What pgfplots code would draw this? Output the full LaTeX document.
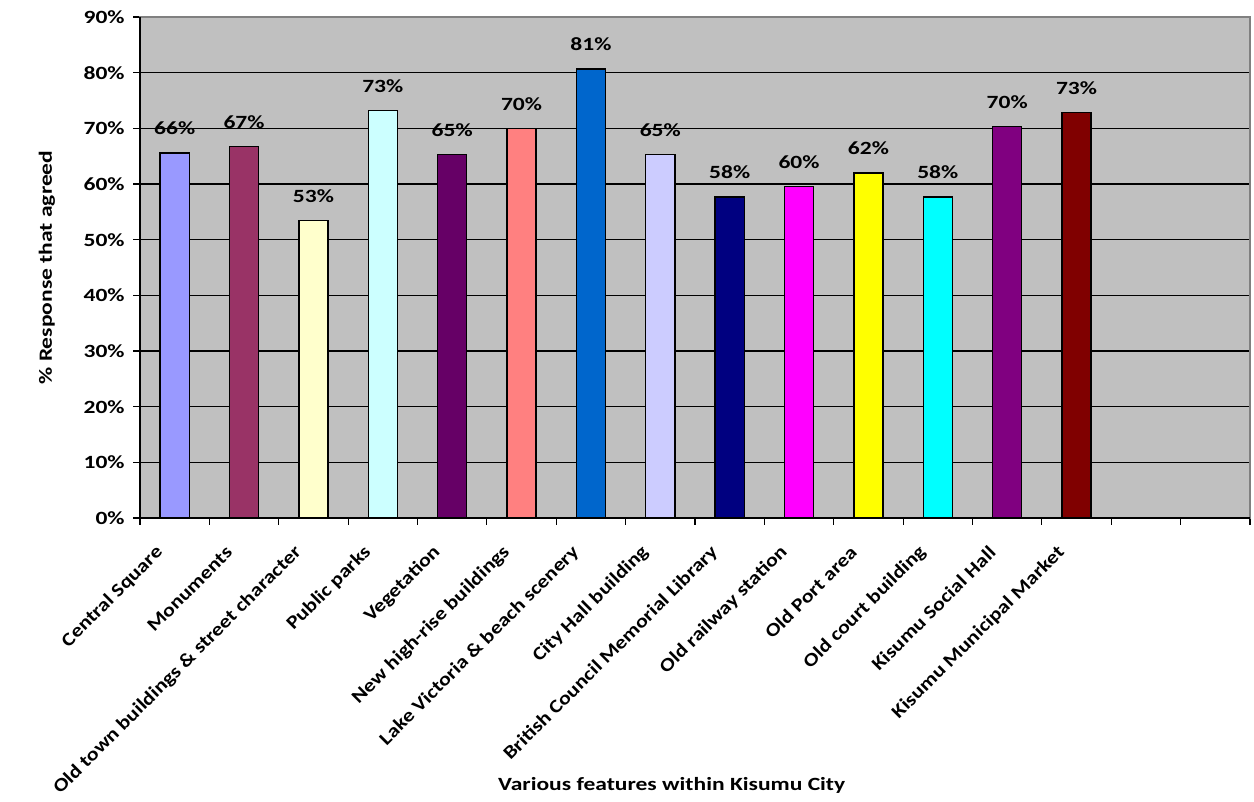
\documentclass[border=0pt]{standalone}
\usepackage{fontspec}
\setmainfont{Carlito}[FakeStretch=1.26]
\newfontfamily\labfont{Carlito}[FakeStretch=1.18]
\usepackage{pgfplots}
\pgfplotsset{compat=1.18}
\definecolor{bg}{RGB}{192,192,192}
\definecolor{c1}{RGB}{153,153,255}
\definecolor{c2}{RGB}{153,51,102}
\definecolor{c3}{RGB}{255,255,204}
\definecolor{c4}{RGB}{204,255,255}
\definecolor{c5}{RGB}{102,0,102}
\definecolor{c6}{RGB}{255,128,128}
\definecolor{c7}{RGB}{0,102,204}
\definecolor{c8}{RGB}{204,204,255}
\definecolor{c9}{RGB}{0,0,128}
\definecolor{c10}{RGB}{255,0,255}
\definecolor{c11}{RGB}{255,255,0}
\definecolor{c12}{RGB}{0,255,255}
\definecolor{c13}{RGB}{128,0,128}
\definecolor{c14}{RGB}{128,0,0}
\begin{document}
\begin{tikzpicture}[font=\bfseries\fontsize{14}{16.8}\selectfont]
\useasboundingbox (-105pt,-212.25pt) rectangle (835.5pt,388.5pt);
\begin{axis}[
  at={(0,0)}, anchor=south west,
  scale only axis, width=832.5pt, height=375.75pt,
  xmin=0, xmax=16, ymin=0, ymax=90,
  /pgf/number format/assume math mode=true,
  axis background/.style={fill=bg},
  axis line style={draw=gray, line width=0.8pt},
  xtick pos=lower, ytick pos=left,
  ytick={0,10,...,90},
  yticklabel={\pgfmathprintnumber{\tick}\%},
  yticklabel style={xshift=-3pt},
  ymajorgrids,
  grid style={black, line width=0.9pt},
  xtick={0,1,...,16}, xticklabels={},
  extra x ticks={0.5,1.5,...,13.5},
  extra x tick labels={Central Square, Monuments, Old town buildings \& street character, Public parks, Vegetation, New high-rise buildings, Lake Victoria \& beach scenery, City Hall building, British Council Memorial Library, Old railway station, Old Port area, Old court building, Kisumu Social Hall, Kisumu Municipal Market},
  extra x tick style={major tick length=0pt, grid=none,
     xticklabel style={font={\labfont\bfseries\fontsize{14}{16.8}\selectfont}, xshift=-11pt, yshift=-23.5pt, rotate=45, anchor=east, inner sep=0pt}},
  tick align=outside, major tick length=5pt,
  tick style={black, line width=0.9pt},
  xlabel={Various features within Kisumu City},
  xlabel style={at={(axis description cs:0.479,-0.544)}, anchor=base},
  ylabel={\% Response that agreed},
  ylabel style={at={(axis description cs:-0.0838,0.5)}, anchor=center},
  every axis plot/.append style={ybar, bar width=0.42, bar shift=0pt, draw=black, line width=1.1pt,
     nodes near coords={\pgfmathprintnumber[fixed,precision=0]{\pgfplotspointmeta}\%},
     every node near coord/.append style={anchor=south, inner sep=0pt, yshift=13pt, black}},
  clip=false,
]
\addplot[fill=c1] coordinates {(0.5,65.6)};
\addplot[fill=c2] coordinates {(1.5,66.7)};
\addplot[fill=c3] coordinates {(2.5,53.4)};
\addplot[fill=c4] coordinates {(3.5,73.2)};
\addplot[fill=c5] coordinates {(4.5,65.3)};
\addplot[fill=c6] coordinates {(5.5,70.0)};
\addplot[fill=c7] coordinates {(6.5,80.7)};
\addplot[fill=c8] coordinates {(7.5,65.3)};
\addplot[fill=c9] coordinates {(8.5,57.7)};
\addplot[fill=c10] coordinates {(9.5,59.6)};
\addplot[fill=c11] coordinates {(10.5,62.0)};
\addplot[fill=c12] coordinates {(11.5,57.7)};
\addplot[fill=c13] coordinates {(12.5,70.3)};
\addplot[fill=c14] coordinates {(13.5,72.8)};
\draw[black, line width=1.1pt] (rel axis cs:0,1) -- (rel axis cs:0,0) -- (rel axis cs:1,0);
\end{axis}
\end{tikzpicture}
\end{document}
